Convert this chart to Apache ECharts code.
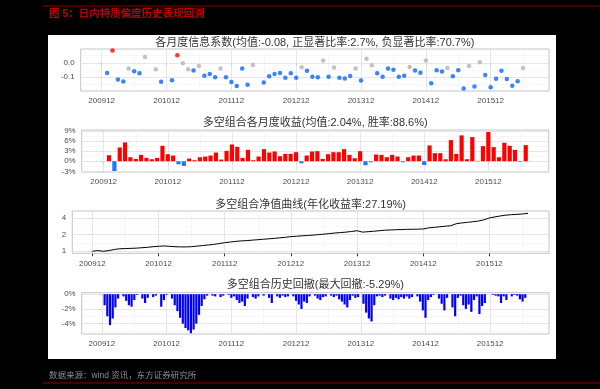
<!DOCTYPE html>
<html><head><meta charset="utf-8">
<script src="https://cdn.jsdelivr.net/npm/echarts@6/dist/echarts.min.js"></script>
<style>
html,body{margin:0;padding:0;background:#000;}
#wrap{position:relative;width:600px;height:389px;background:#000;overflow:hidden;}
#panel{position:absolute;left:48px;top:35px;width:508px;height:324px;background:#fff;}
#chart{position:absolute;left:0;top:0;width:600px;height:389px;}
</style></head><body>
<div id="wrap"><div id="panel"></div><div id="chart"></div></div>
<script>
// ---- data ----
const headerText = '图 5：日内特质偏度历史表现回溯';
const footerText = '数据来源：wind 资讯，东方证券研究所';
const panelTitles = [
  '各月度信息系数(均值:-0.08, 正显著比率:2.7%, 负显著比率:70.7%)',
  '多空组合各月度收益(均值:2.04%, 胜率:88.6%)',
  '多空组合净值曲线(年化收益率:27.19%)',
  '多空组合历史回撤(最大回撤:-5.29%)'
];
// months counted from 200912 (=0)
const tickMonths = [0, 12, 24, 36, 48, 60, 72];
const tickLabels = ['200912', '201012', '201112', '201212', '201312', '201412', '201512'];

// monthly IC, 201001..201606
const icValues = [-0.071, 0.084, -0.116, -0.129, -0.040, -0.058, -0.073, 0.040, null, -0.044,
  -0.131, null, -0.120, 0.051, -0.004, -0.044, -0.053, -0.022, -0.089, -0.078,
  -0.100, -0.040, -0.100, -0.133, -0.160, -0.040, -0.151, -0.016, null, -0.136,
  -0.093, -0.078, -0.071, -0.104, -0.073, -0.104, -0.031, -0.056, -0.096, -0.100,
  0.016, -0.096, -0.033, -0.104, -0.109, -0.091, -0.040, -0.122, 0.027, -0.018,
  -0.073, -0.096, -0.040, -0.049, -0.096, -0.089, -0.029, -0.053, -0.069, 0.016,
  -0.142, -0.051, -0.060, -0.036, -0.093, -0.051, -0.178, -0.022, -0.164, 0.004,
  -0.084, -0.169, -0.111, -0.056, -0.113, -0.158, -0.127, -0.036];
// 1 = significantly positive, 0 = not significant, -1 = significantly negative
const icSignif = [-1, 1, -1, -1, 0, -1, -1, 0, 0, 0,
  -1, 0, -1, 1, 0, 0, -1, 0, -1, -1,
  -1, 0, -1, -1, -1, -1, -1, 0, 0, -1,
  -1, -1, -1, -1, -1, -1, 0, -1, -1, -1,
  0, -1, 0, -1, -1, -1, 0, -1, 0, 0,
  -1, -1, -1, -1, -1, -1, 0, -1, -1, 0,
  -1, -1, -1, 0, -1, -1, -1, 0, -1, 0,
  -1, -1, -1, -1, -1, -1, -1, 0];

// monthly long-short returns (%), 201001..201607
const retValues = [1.8, -2.9, 4.1, 5.6, 1.2, 0.7, 1.9, 1.0, 0.6, 1.0,
  4.6, 2.1, 1.7, -0.9, -1.4, 0.8, 0.3, 1.2, 1.4, 1.7,
  2.6, 0.5, 3.1, 5.0, 4.3, 1.0, 3.4, 0.3, 1.4, 3.6,
  2.6, 2.9, 1.5, 2.2, 2.2, 2.7, -0.6, 1.7, 2.9, 3.0,
  0.7, 2.1, 2.7, 2.7, 3.6, 1.9, 0.9, 3.0, -1.2, -0.3,
  2.0, 1.9, 1.2, 1.9, 1.4, -0.3, 1.2, 1.7, 1.7, -1.1,
  4.7, 2.4, 2.4, 0.6, 6.3, 2.2, 7.7, 0.6, 7.2, 0.1,
  4.5, 8.7, 4.2, 1.2, 5.5, 4.6, 3.4, -0.2, 4.8];

// net value at month ends, 200912..201607
const navValues = [1.00, 1.03, 1.00, 1.03, 1.08, 1.11, 1.12, 1.13, 1.14, 1.16,
  1.18, 1.21, 1.23, 1.25, 1.23, 1.21, 1.20, 1.20, 1.21, 1.24,
  1.27, 1.30, 1.33, 1.38, 1.43, 1.47, 1.51, 1.54, 1.56, 1.59,
  1.62, 1.65, 1.68, 1.71, 1.75, 1.79, 1.84, 1.87, 1.90, 1.93,
  1.96, 2.00, 2.04, 2.09, 2.14, 2.18, 2.22, 2.28, 2.35, 2.22,
  2.26, 2.30, 2.35, 2.40, 2.43, 2.45, 2.47, 2.49, 2.50, 2.51,
  2.53, 2.65, 2.71, 2.77, 2.84, 2.90, 3.15, 3.25, 3.33, 3.42,
  3.52, 3.70, 4.00, 4.18, 4.35, 4.50, 4.58, 4.65, 4.72, 4.85];

// drawdown (%), half-monthly from mid-201001
const ddValues = [-1.5, -3.0, -4.2, -3.3, -1.8, -0.6, 0, -0.3, -0.9, -1.5,
  -1.7, -0.8, -0.1, 0, -0.6, -1.2, -0.5, 0, -0.4, -0.2,
  0, -1.7, -0.8, -0.1, 0, -0.6, -1.5, -2.3, -3.2, -4.0,
  -4.6, -4.9, -5.29, -4.8, -4.0, -2.8, -1.6, -0.7, -0.2, 0,
  -0.2, -0.3, 0, -0.4, -0.2, 0, -0.1, -0.5, -0.3, -0.8,
  -1.2, -1.0, -1.6, -0.6, 0, -0.4, -0.6, -0.3, 0, -0.2,
  0, -0.5, -1.2, 0, -0.3, -0.5, -0.2, -0.4, -0.3, 0,
  -0.3, -0.9, -1.4, -2.0, -1.0, -1.2, -0.3, 0, -0.2, -0.6,
  -0.8, -0.4, -0.3, 0, -0.2, -0.4, -0.2, -0.7, -1.0, -1.4,
  -1.8, -0.8, -0.2, -0.5, -0.4, 0, -1.3, -2.5, -3.3, -3.7,
  -1.5, -0.3, -0.2, -0.4, -0.2, 0, -0.6, -0.8, -0.5, -0.7,
  -0.4, -0.6, -0.3, -0.6, -0.4, 0, -0.3, -1.0, -2.2, -3.2,
  -0.8, -0.4, -0.1, 0, -0.6, -1.3, -2.2, -0.5, 0, -1.8,
  -3.0, -0.5, -0.2, -1.5, -2.0, -1.4, -2.4, -0.8, -0.3, -2.7,
  -1.6, -1.2, 0, 0, -0.1, -0.2, -0.3, -1.2, -0.3, -0.8,
  0, -0.3, -0.1, -0.2, -0.7, -1.0, -0.5, 0];

// ---- build ----
const chart = echarts.init(document.getElementById('chart'), null, {renderer: 'canvas'});
const FONT = '"Liberation Sans", Arial, "Noto Sans CJK SC", sans-serif';
const colorOf = {1: '#ff0000', 0: '#b3b3b3', '-1': '#0a64ff'};

const grids = [
  {left: 80.7, top: 49, width: 468.3, height: 42},
  {left: 81.7, top: 130, width: 467, height: 42},
  {left: 72.3, top: 211, width: 476.7, height: 42.3},
  {left: 81.7, top: 292.7, width: 467.3, height: 41.3}
];
const xRanges = [[-3.89, 82.8], [-4.12, 83.3], [-3.63, 82.8], [-3.75, 82.9]];
const yDefs = [
  {type: 'value', min: -0.195, max: 0.095, major: [0, -0.1], minor: [0.05, -0.05, -0.15], fmt: v => v.toFixed(1)},
  {type: 'value', min: -3.2, max: 9.3, major: [-3, 0, 3, 6, 9], minor: [-1.5, 1.5, 4.5, 7.5], fmt: v => v + '%'},
  {type: 'log', min: 0.92, max: 5.34, major: [1, 2, 4], minor: [Math.SQRT2, 2 * Math.SQRT2], fmt: v => String(v)},
  {type: 'value', min: -5.4, max: 0.2, major: [0, -2, -4], minor: [-1, -3, -5], fmt: v => v + '%'}
];
const xMinor = [6, 18, 30, 42, 54, 66, 78];

const axisText = {fontSize: 8, color: '#4d4d4d', fontFamily: FONT};

const xAxis = grids.map((g, i) => ({
  type: 'value', gridIndex: i, min: xRanges[i][0], max: xRanges[i][1],
  axisLine: {show: false}, splitLine: {show: false},
  axisTick: {show: true, customValues: tickMonths, length: 3, lineStyle: {color: '#333', width: 1}},
  axisLabel: Object.assign({customValues: tickMonths, margin: 6,
    formatter: v => tickLabels[tickMonths.indexOf(Math.round(v))] || ''}, axisText)
}));
const yAxis = yDefs.map((d, i) => Object.assign({
  type: d.type, gridIndex: i, min: d.min, max: d.max,
  axisLine: {show: false}, splitLine: {show: false},
  axisTick: {show: true, customValues: d.major, length: 3, lineStyle: {color: '#333', width: 1}},
  axisLabel: Object.assign({customValues: d.major, margin: 6, formatter: d.fmt}, axisText)
}, d.type === 'log' ? {logBase: 2} : {}));

const series = [];
// gridlines
grids.forEach((g, i) => {
  const d = yDefs[i];
  const lines = [];
  xMinor.forEach(v => lines.push({xAxis: v, lineStyle: {color: '#f2f2f2', width: 0.6, type: 'solid'}}));
  d.minor.forEach(v => lines.push({yAxis: v, lineStyle: {color: '#f2f2f2', width: 0.6, type: 'solid'}}));
  tickMonths.forEach(v => lines.push({xAxis: v, lineStyle: {color: '#e3e3e3', width: 0.9, type: 'solid'}}));
  d.major.forEach(v => lines.push({yAxis: v, lineStyle: {color: '#e3e3e3', width: 0.9, type: 'solid'}}));
  series.push({
    type: 'line', xAxisIndex: i, yAxisIndex: i, data: [], silent: true, z: 1,
    markLine: {symbol: 'none', silent: true, animation: false, label: {show: false}, data: lines}
  });
});

// panel 1: IC scatter
series.push({
  type: 'scatter', xAxisIndex: 0, yAxisIndex: 0, z: 5, symbolSize: 4.5,
  data: icValues.map((v, k) => v === null ? null : {
    value: [k + 1, v], itemStyle: {color: colorOf[icSignif[k]]}
  }).filter(p => p)
});
// panel 2: monthly return bars
series.push({
  type: 'bar', xAxisIndex: 1, yAxisIndex: 1, z: 5, barWidth: 4.2,
  data: retValues.map((v, k) => ({value: [k + 1, v], itemStyle: {color: v >= 0 ? '#ff0000' : '#1a78ff'}}))
});
// panel 3: net value line
series.push({
  type: 'line', xAxisIndex: 2, yAxisIndex: 2, z: 5, symbol: 'none',
  lineStyle: {color: '#000', width: 1},
  data: navValues.map((v, k) => [k, v])
});
// panel 4: drawdown bars
series.push({
  type: 'bar', xAxisIndex: 3, yAxisIndex: 3, z: 5, barWidth: 2.2,
  itemStyle: {color: '#0000ff'},
  data: ddValues.map((v, k) => [(k + 1) * 0.5, v])
});

const titles = [
  {text: headerText, left: 49, top: 9, textStyle: {fontSize: 10.5, fontWeight: 'bold', color: '#c00000', fontFamily: FONT}},
  {text: footerText, left: 49, top: 371, textStyle: {fontSize: 8.5, fontWeight: 'normal', color: '#8c8c8c', fontFamily: FONT}}
];
const titleY = [37, 117.5, 199, 279.5];
grids.forEach((g, i) => {
  titles.push({
    text: panelTitles[i], left: g.left + g.width / 2, top: titleY[i], textAlign: 'center', padding: 0,
    textStyle: {fontSize: 11, fontWeight: 'normal', color: '#333', fontFamily: FONT}
  });
});
titles.forEach(t => { if (t.padding === undefined) t.padding = 0; });

chart.setOption({
  animation: false,
  backgroundColor: 'transparent',
  title: titles,
  grid: grids.map(g => Object.assign({show: true, backgroundColor: '#fff', borderColor: '#c4c4c4', borderWidth: 1, containLabel: false}, g)),
  xAxis: xAxis,
  yAxis: yAxis,
  series: series,
  graphic: {elements: [
    {type: 'line', shape: {x1: 43, y1: 6, x2: 600, y2: 6}, style: {stroke: '#8b0000', lineWidth: 1.2}},
    {type: 'line', shape: {x1: 43, y1: 383, x2: 600, y2: 383}, style: {stroke: '#8b0000', lineWidth: 1.2}}
  ]}
});
</script>
</body></html>
